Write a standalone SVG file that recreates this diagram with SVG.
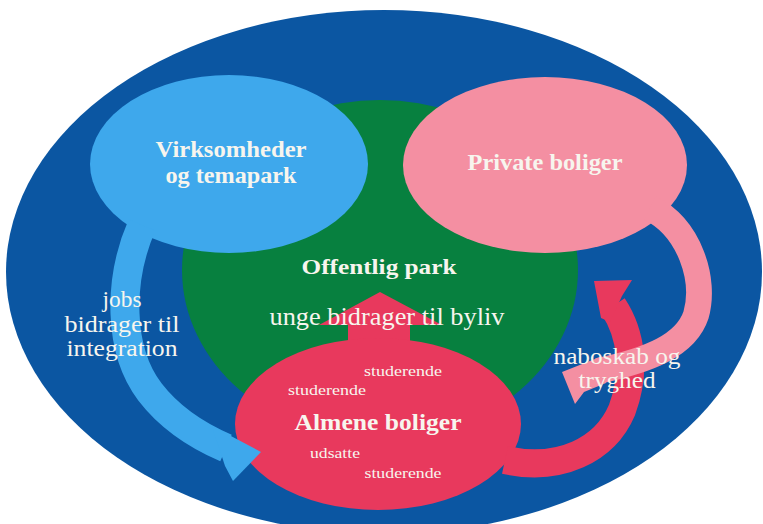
<svg xmlns="http://www.w3.org/2000/svg" width="763" height="524" viewBox="0 0 763 524">
  <style>
    .lbl { font-family: "Liberation Serif", "DejaVu Serif", serif; fill: #f7f5ee; text-anchor: middle; }
    .b { font-weight: bold; }
    .band { fill: none; }
  </style>
  <rect width="763" height="524" fill="#ffffff"/>
  <g id="outer">
    <ellipse cx="384" cy="272" rx="378" ry="262" fill="#0b56a2"/>
  </g>
  <g id="park">
    <ellipse cx="380" cy="270" rx="198" ry="170" fill="#07803f"/>
  </g>
  <g id="virksomheder">
    <ellipse cx="229" cy="164" rx="139" ry="89" fill="#3ea8ec"/>
    <text class="lbl b" x="231" y="157" font-size="24" textLength="151" lengthAdjust="spacingAndGlyphs">Virksomheder</text>
    <text class="lbl b" x="231" y="183" font-size="24" textLength="131" lengthAdjust="spacingAndGlyphs">og temapark</text>
  </g>
  <g id="private">
    <ellipse cx="545" cy="165" rx="142" ry="88" fill="#f48fa2"/>
    <text class="lbl b" x="545" y="170" font-size="24" textLength="155" lengthAdjust="spacingAndGlyphs">Private boliger</text>
  </g>
  <g id="almene">
    <polygon points="380,292 442,325 410,325 410,345 348,345 348,325 319,325" fill="#e8395d"/>
    <ellipse cx="378" cy="424" rx="143" ry="86" fill="#e8395d"/>
    <text class="lbl" x="403" y="376" font-size="14" textLength="78" lengthAdjust="spacingAndGlyphs">studerende</text>
    <text class="lbl" x="327" y="395" font-size="14" textLength="78" lengthAdjust="spacingAndGlyphs">studerende</text>
    <text class="lbl b" x="378" y="430" font-size="23" textLength="167" lengthAdjust="spacingAndGlyphs">Almene boliger</text>
    <text class="lbl" x="335" y="458" font-size="14" textLength="50" lengthAdjust="spacingAndGlyphs">udsatte</text>
    <text class="lbl" x="403" y="478" font-size="14" textLength="77" lengthAdjust="spacingAndGlyphs">studerende</text>
  </g>
  <g id="connectors">
    <g id="red-arrow">
      <path class="band" d="M505,460 C560,472 605,450 622,410 C636,372 632,335 613,306" stroke="#e8395d" stroke-width="28"/>
      <polygon points="594,281 632,280 622,296 610,322 601,318" fill="#e8395d"/>
    </g>
    <g id="blue-arrow">
      <path class="band" d="M142,225 C118,280 118,350 150,392 C170,418 198,436 226,448" stroke="#3ea8ec" stroke-width="29"/>
      <polygon points="212,426 261,452 233,481 225,466" fill="#3ea8ec"/>
    </g>
    <g id="pink-arrow">
      <path class="band" d="M650,208 C690,228 706,280 696,315 C686,345 650,360 598,371" stroke="#f48fa2" stroke-width="26"/>
      <polygon points="562,372 600,357 606,383 584,392 575,404" fill="#f48fa2"/>
    </g>
  </g>
  <g id="labels">
    <text class="lbl b" x="379" y="274" font-size="22" textLength="155" lengthAdjust="spacingAndGlyphs">Offentlig park</text>
    <text class="lbl" x="387" y="325" font-size="25" textLength="235" lengthAdjust="spacingAndGlyphs">unge bidrager til byliv</text>
    <text class="lbl" x="122" y="307" font-size="23" textLength="39" lengthAdjust="spacingAndGlyphs">jobs</text>
    <text class="lbl" x="122" y="332" font-size="23" textLength="115" lengthAdjust="spacingAndGlyphs">bidrager til</text>
    <text class="lbl" x="122" y="356" font-size="23" textLength="111" lengthAdjust="spacingAndGlyphs">integration</text>
    <text class="lbl" x="617" y="364" font-size="23" textLength="127" lengthAdjust="spacingAndGlyphs">naboskab og</text>
    <text class="lbl" x="617" y="388" font-size="23" textLength="77" lengthAdjust="spacingAndGlyphs">tryghed</text>
  </g>
</svg>
